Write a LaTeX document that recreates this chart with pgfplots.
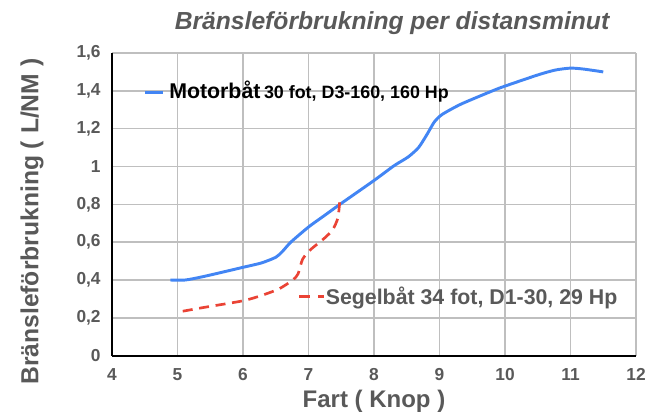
\documentclass[border=0pt]{standalone}
\usepackage{fontspec}
\setmainfont{Liberation Sans}
\usepackage{pgfplots}
\pgfplotsset{compat=1.18}
\definecolor{gblue}{HTML}{4285F4}
\definecolor{gred}{HTML}{EA4335}
\definecolor{tgray}{HTML}{595959}
\definecolor{grid}{HTML}{D9D9D9}
\begin{document}
\begin{tikzpicture}
\begin{axis}[
  name=ax,
  scale only axis,
  width=393pt, height=227pt,
  xmin=4, xmax=12, ymin=0, ymax=1.6,
  xtick={4,5,...,12},
  ytick={0,0.2,0.4,0.6,0.8,1.0,1.2,1.4,1.6},
  grid=major,
  grid style={grid, line width=1.1pt},
  axis lines*=left,
  axis line style={black, line width=1.6pt},
  tick style={draw=none},
  major tick length=0pt,
  /pgf/number format/assume math mode=true,
  /pgf/number format/use comma,
  /pgf/number format/fixed,
  /pgf/number format/precision=1,
  tick label style={font=\bfseries\fontsize{13}{15}\selectfont, text=tgray},
  yticklabel style={xshift=-5pt},
  xticklabel style={yshift=-6pt},
  clip=false,
]
\addplot[gblue, line width=2.2pt, smooth, tension=0.4] coordinates {
(4.89,0.40) (5.12,0.40) (5.42,0.42) (6.0,0.467) (6.28,0.49) (6.5,0.52)
(6.6,0.55) (6.73,0.60) (7.0,0.68) (7.24,0.74) (7.48,0.80) (8.0,0.926)
(8.31,1.005) (8.52,1.05) (8.68,1.10) (8.81,1.17) (8.92,1.235) (9.04,1.275)
(9.33,1.33) (9.81,1.40) (10.0,1.425) (10.51,1.485) (10.77,1.51) (11.0,1.52)
(11.2,1.515) (11.5,1.50)};
\addplot[gred, line width=2pt, dash pattern=on 7.5pt off 5pt, smooth, tension=0.4] coordinates {
(5.08,0.235) (5.42,0.256) (6.0,0.29) (6.28,0.318) (6.55,0.353) (6.76,0.40)
(6.84,0.432) (6.91,0.51) (7.03,0.56) (7.24,0.62) (7.37,0.666) (7.45,0.73) (7.48,0.83)};
% in-plot legend
\draw[gblue, line width=2.2pt] (axis cs:4.51,1.39) -- (axis cs:4.78,1.39);
\node[anchor=base west, inner sep=0pt, text=black] at (axis cs:4.87,1.358)
  {\bfseries\fontsize{16}{18}\selectfont Motorbåt\,\fontsize{13.4}{15}\selectfont 30 fot, D3-160, 160 Hp};
\draw[gred, line width=2pt, dash pattern=on 8pt off 6pt] (axis cs:6.86,0.312) -- (axis cs:7.24,0.312);
\node[anchor=base west, inner sep=0pt, text=tgray] at (axis cs:7.26,0.273)
  {\bfseries\fontsize{16}{18}\selectfont Segelbåt 34 fot, D1-30, 29 Hp};
\end{axis}
\node[text=tgray, font=\bfseries\itshape\fontsize{18.5}{21}\selectfont] at ([xshift=13.5pt,yshift=22.5pt]ax.north) {Bränsleförbrukning per distansminut};
\node[text=tgray, font=\bfseries\fontsize{18}{21}\selectfont] at ([yshift=-34pt]ax.south) {Fart ( Knop )};
\node[text=tgray, font=\bfseries\fontsize{18.5}{21}\selectfont, rotate=90] at ([xshift=-60pt,yshift=-13pt]ax.west) {Bränsleförbrukning ( L/NM )};
\pgfresetboundingbox
\path ([xshift=-84pt,yshift=-45pt]ax.south west) rectangle ([xshift=15.75pt,yshift=39.75pt]ax.north east);
\end{tikzpicture}
\end{document}
